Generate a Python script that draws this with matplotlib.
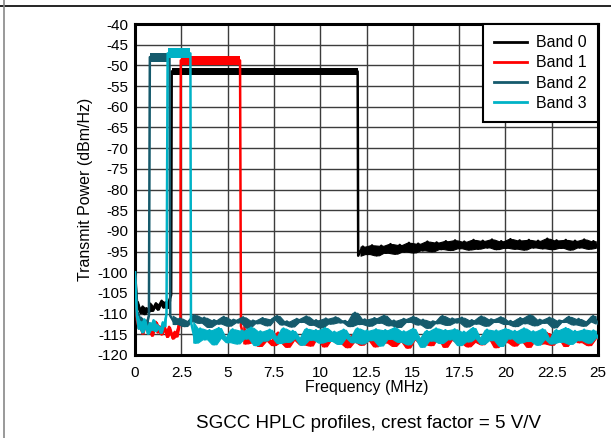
import numpy as np
import matplotlib.pyplot as plt
from matplotlib.lines import Line2D

plt.rcParams['font.family'] = ['Liberation Sans', 'DejaVu Sans']
plt.rcParams['axes.unicode_minus'] = False

# band names and colours
bands = ['Band 0', 'Band 1', 'Band 2', 'Band 3']
colors = ['#000000', '#ff0000', '#155a6c', '#00b2c6']

# passband edges (MHz) and level envelope (dBm/Hz)
edge_lo = [1.98, 2.47, 0.80, 1.76]
edge_hi = [12.02, 5.67, 1.86, 2.99]
pb_top = [-50.6, -47.7, -46.9, -45.9]
pb_bot = [-52.3, -49.9, -49.1, -48.3]

# noise below the passband (starts at 0 MHz, ends just before edge_lo)
low_end = [1.95, 2.45, 0.75, 1.70]
low_vals = [
    [-100, -107.0, -108.6, -109.8, -108.3, -110.1, -108.7, -109.5, -107.6, -109.3,
     -108.4, -107.5, -109.0, -107.8, -106.9, -108.5, -107.3, -108.6, -106.8, -105.5],
    [-101, -111.5, -113.5, -112.2, -114.8, -113.0, -111.8, -114.2, -112.5, -115.3,
     -113.6, -112.0, -114.5, -113.1, -115.0, -112.7, -114.0, -115.6, -113.2, -114.7,
     -116.0, -114.4, -115.5, -113.0, -111.0],
    [-100, -109.5, -112.3, -111.0, -113.2, -111.8, -112.6, -110.5],
    [-100, -110.5, -113.6, -112.0, -114.5, -111.4, -113.2, -114.8, -112.3, -113.9,
     -111.6, -114.2, -112.8, -113.5, -114.6, -112.1, -113.0, -110.0],
]

# noise above the passband (from hi_start to 25 MHz)
hi_start = [12.05, 5.72, 1.90, 3.02]
hi_vals = [
    [-96.0, -93.8, -95.6, -93.5, -95.9, -93.6, -95.3, -93.2, -95.5, -93.4,
     -95.0, -92.9, -95.2, -93.1, -94.7, -92.6, -94.9, -92.8, -94.4, -92.5,
     -94.6, -92.3, -94.2, -92.6, -94.5, -92.2, -94.3, -92.4, -94.0, -92.1,
     -94.4, -92.5, -94.1, -92.0, -94.3, -92.3, -94.5, -92.2, -94.0, -92.4,
     -94.2, -91.9, -94.4, -92.3, -94.1, -92.2, -94.5, -92.4, -94.0, -92.1,
     -94.3, -92.5, -94.1],
    [-113.0, -117.2, -114.8, -116.9, -117.8, -115.0, -116.5, -117.6, -114.6, -116.8,
     -118.0, -115.2, -116.3, -117.4, -114.9, -117.7, -115.6, -115.0, -117.9, -116.2,
     -114.7, -117.1, -115.8, -118.1, -115.3, -116.7, -117.5, -114.8, -116.4, -117.9,
     -115.4, -117.0, -115.9, -117.8, -114.9, -116.6, -118.2, -115.1, -116.2, -117.3,
     -114.8, -117.6, -115.7, -115.2, -118.0, -116.3, -115.0, -117.1, -115.9, -117.9,
     -115.4, -116.8, -117.4, -114.9, -116.1, -118.1, -115.5, -116.9, -115.8, -117.7,
     -115.0, -116.5, -118.0, -115.3, -116.2, -117.2, -114.7, -117.5, -115.9, -115.3,
     -117.8, -116.1, -115.0, -116.9, -115.7, -117.6, -115.2, -116.0],
    [-110.5, -112.5, -111.2, -113.0, -111.8, -110.4, -112.2, -111.0, -113.2, -111.6,
     -112.4, -110.8, -112.9, -111.5, -112.1, -110.9, -113.4, -111.7, -112.3, -111.1,
     -112.8, -111.4, -110.6, -112.6, -111.9, -113.1, -111.3, -112.0, -110.7, -112.7,
     -111.6, -113.3, -111.2, -112.4, -110.9, -112.1, -111.8, -113.0, -109.8, -112.5,
     -111.4, -112.9, -111.1, -112.2, -110.5, -112.8, -111.7, -113.2, -111.3, -112.0,
     -110.8, -112.6, -111.5, -113.4, -111.9, -112.3, -110.6, -112.7, -111.2, -112.1,
     -111.0, -113.1, -111.6, -112.4, -110.7, -112.9, -111.4, -112.0, -110.9, -112.5,
     -111.8, -113.0, -111.1, -112.3, -110.4, -112.8, -111.5, -112.2, -111.0, -113.3,
     -111.7, -112.0, -110.8, -112.6, -111.3, -112.9, -111.9, -110.6, -112.4],
    [-112.0, -117.0, -113.6, -116.2, -114.0, -117.4, -113.5, -115.8, -116.9, -113.8,
     -117.2, -114.1, -116.0, -113.4, -117.6, -114.3, -116.5, -113.9, -115.7, -117.1,
     -113.6, -116.8, -114.2, -115.9, -117.5, -113.7, -116.3, -114.0, -117.0, -113.5,
     -116.6, -114.4, -117.3, -113.9, -115.8, -116.9, -113.6, -117.2, -114.1, -116.4,
     -113.8, -117.7, -114.0, -116.1, -113.5, -116.8, -114.3, -117.4, -113.7, -116.0,
     -118.0, -114.2, -116.5, -113.6, -117.1, -114.0, -116.2, -113.8, -117.6, -114.4,
     -116.7, -113.5, -115.9, -117.3, -113.9, -116.4, -114.1, -117.8, -113.7, -116.0,
     -114.2, -117.0, -113.6, -116.6, -114.3, -117.5, -113.8, -116.1, -117.2, -114.0,
     -116.8, -113.5, -117.3, -114.2, -116.4, -113.9, -117.0, -114.1, -115.8],
]


def noise_band(ax, f, v, color, z):
    # fill between neighbouring samples so the trace reads as a dense noise band
    v = np.asarray(v)
    fm = (f[:-1] + f[1:]) / 2
    ax.fill_between(fm, np.minimum(v[:-1], v[1:]), np.maximum(v[:-1], v[1:]),
                    color=color, lw=0.8, edgecolor=color, zorder=z)


fig = plt.figure(figsize=(6.11, 4.38), dpi=100)
ax = fig.add_axes([0.221, 0.1895, 0.7578, 0.7557])

for i in range(4):
    mid = (pb_top[i] + pb_bot[i]) / 2
    f_low = np.linspace(0, low_end[i], len(low_vals[i]))
    f_hi = np.linspace(hi_start[i], 25, len(hi_vals[i]))
    f = np.concatenate([f_low, [edge_lo[i], edge_hi[i]], f_hi])
    p = np.concatenate([low_vals[i], [mid, mid], hi_vals[i]])
    ax.plot(f, p, color=colors[i], lw=1.8, label=bands[i], zorder=3 + i)
    ax.fill_between([edge_lo[i], edge_hi[i]], [pb_top[i]] * 2, [pb_bot[i]] * 2,
                    color=colors[i], lw=0, zorder=3 + i)
    noise_band(ax, f_low[1:], low_vals[i][1:], colors[i], 3 + i)
    noise_band(ax, f_hi, hi_vals[i], colors[i], 3 + i)

ax.set_xlim(0, 25)
ax.set_ylim(-120, -40)
ax.set_xticks(np.arange(0, 25.1, 2.5))
ax.set_xticklabels(['0', '2.5', '5', '7.5', '10', '12.5', '15', '17.5', '20', '22.5', '25'])
ax.set_yticks(np.arange(-120, -39, 5))
ax.grid(True, color='#3c3c3c', lw=1.0)
ax.set_axisbelow(True)
ax.tick_params(axis='x', length=0, labelsize=11, pad=8)
ax.tick_params(axis='y', length=0, labelsize=11, pad=5)
for s in ax.spines.values():
    s.set_linewidth(2.2)
ax.set_xlabel('Frequency (MHz)', fontsize=11.5, labelpad=0)
ax.set_ylabel('Transmit Power (dBm/Hz)', fontsize=11.5, labelpad=3)

leg = ax.legend(loc='upper right', borderaxespad=0, fontsize=11.5, fancybox=False,
                framealpha=1, edgecolor='black', labelspacing=0.33, handlelength=2.1,
                handletextpad=0.55, borderpad=0.7)
leg.get_frame().set_linewidth(1.5)
for h in leg.get_lines():
    h.set_linewidth(2)

fig.text(0.603, 0.034, 'SGCC HPLC profiles, crest factor = 5 V/V', ha='center',
         va='center', fontsize=13.5)

# page frame lines
fig.add_artist(Line2D([0, 1], [0.986, 0.986], color='black', lw=1.2))
fig.add_artist(Line2D([0.0065, 0.0065], [0, 1], color='#888888', lw=1.2))

fig.savefig('out.png', dpi=100)
